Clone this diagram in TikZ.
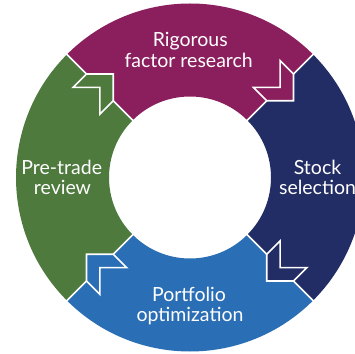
\documentclass[tikz,border=0pt]{standalone}
\usepackage{fontspec}
\setmainfont{Lato}
\definecolor{cpurple}{RGB}{139,31,94}
\definecolor{cnavy}{RGB}{35,45,101}
\definecolor{cblue}{RGB}{42,110,181}
\definecolor{cgreen}{RGB}{78,122,62}
\tikzset{
  sector/.style={fill=#1},
  sepline/.style={draw=white, line width=1.6pt},
  chevron/.style={fill=#1, draw=white, line width=1.6pt, line join=miter},
  lbl/.style={text=white, font=\fontsize{19.5}{21}\selectfont, inner sep=0pt, anchor=base}
}
\newcommand{\ringsector}[3]{% color, start, end
  \path[sector=#1] (#2:174) arc[start angle=#2, end angle=#3, radius=174]
    -- (#3:81) arc[start angle=#3, end angle=#2, radius=81] -- cycle;}
\newcommand{\chevshape}[2]{% color, boundary angle
  \path[chevron=#1, shift={(#2:127.5)}, rotate=#2-90]
    (18.9,0) -- (0,18.9) -- (-18.9,18.9) -- (0,0) -- (-18.9,-18.9) -- (0,-18.9) -- cycle;}
\begin{document}
\begin{tikzpicture}[x=1pt,y=1pt]
\useasboundingbox (0,0) rectangle (355,353);
\clip (0,0) rectangle (355,353);
\fill[white] (0,0) rectangle (355,353);
\begin{scope}[shift={(190,175.5)}]
  \ringsector{cpurple}{45}{135}
  \ringsector{cnavy}{-45}{45}
  \ringsector{cblue}{225}{315}
  \ringsector{cgreen}{135}{225}
  \foreach \a in {45,135,225,315} {
    \draw[sepline] (\a:80) -- (\a:175);
  }
  \chevshape{cpurple}{45}
  \chevshape{cnavy}{-45}
  \chevshape{cblue}{225}
  \chevshape{cgreen}{135}
\end{scope}
\node[lbl] (r1) at (190.3,306.3) {Rigorous};
\node[lbl] (r2) at (188.7,285.3) {factor research};
\node[lbl] (s1) at (317.5,178) {Stock};
\node[lbl] (s2) at (317.5,158) {selection};
\node[lbl] (p1) at (189,51.3) {Portfolio};
\node[lbl] (p2) at (190,31.3) {optimization};
\node[lbl] (t1) at (61.7,178) {Pre-trade};
\node[lbl] (t2) at (62.5,158.7) {review};
\end{tikzpicture}
\end{document}
